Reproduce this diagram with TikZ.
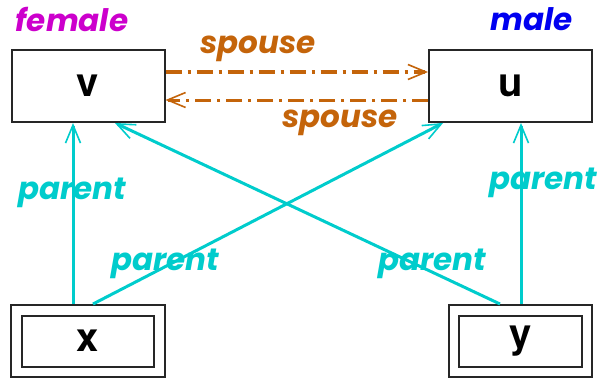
\documentclass[tikz,border=0pt]{standalone}
\usepackage{fontspec}
\setsansfont{TeX Gyre Heros}
\newfontfamily\labfont{Poppins}
\usetikzlibrary{arrows.meta}
\definecolor{orng}{RGB}{196,100,10}
\definecolor{cyn}{RGB}{0,204,204}
\definecolor{mgnt}{RGB}{204,0,204}
\definecolor{blu}{RGB}{0,0,240}
\tikzset{
  x=1pt,y=1pt,
  letter/.style={font=\sffamily\bfseries\fontsize{40}{40}\selectfont},
  box/.style={draw=black!85, line width=2pt, minimum width=153pt, minimum height=72pt, inner sep=0pt, letter},
  inbox/.style={draw=black!85, line width=2pt, inner sep=0pt, letter},
  lab/.style={font=\labfont\bfseries\itshape\fontsize{31}{31}\selectfont, inner sep=0pt},
  tip/.style={-{Straight Barb[length=18pt,width=15pt,line width=1.6pt]}},
  par/.style={cyn, line width=3pt, tip},
  spo/.style={orng, line width=3pt, tip, dash pattern=on 16pt off 6pt on 3pt off 6pt},
}
\begin{document}
\begin{tikzpicture}
\useasboundingbox (0,0) rectangle (601,381);
\node[box] (v) at (88,295) {v};
\node[box, minimum width=163pt] (u) at (510.5,295) {u};
\node[box, minimum width=154pt] (x) at (88,40) {};
\node[box, minimum width=143pt] (y) at (520.5,40) {};
\node[inbox, minimum width=132pt, minimum height=51pt] (xi) at (x) {x};
\node[inbox, minimum width=123pt, minimum height=51pt] (yi) at (y) {y};
\node[lab, mgnt] (fem) at (72,362) {female};
\node[lab, blu] (mal) at (532,362) {male};
\coordinate (vr1) at ([yshift=14pt]v.east);
\coordinate (vr2) at ([yshift=-14pt]v.east);
\coordinate (ul1) at ([yshift=14pt]u.west);
\coordinate (ul2) at ([yshift=-14pt]u.west);
\draw[spo] (vr1) -- (ul1);
\draw[spo] (ul2) -- (vr2);
\node[lab, orng] (s1) at (258,332) {spouse};
\node[lab, orng] (s2) at (340,258) {spouse};
\coordinate (xt1) at (73,305|-x.north);
\coordinate (xt2) at (93,305|-x.north);
\coordinate (yt1) at (500,305|-y.north);
\coordinate (yt2) at (521,305|-y.north);
\draw[par] (x.north -| xt1) -- (v.south -| xt1);
\draw[par] (x.north -| xt2) -- (443,258);
\draw[par] (y.north -| yt1) -- (115,258);
\draw[par] (y.north -| yt2) -- (u.south -| yt2);
\node[lab, cyn] at (72,188) {parent};
\node[lab, cyn] at (165,117) {parent};
\node[lab, cyn] at (432,117) {parent};
\node[lab, cyn] at (543,198) {parent};
\end{tikzpicture}
\end{document}
